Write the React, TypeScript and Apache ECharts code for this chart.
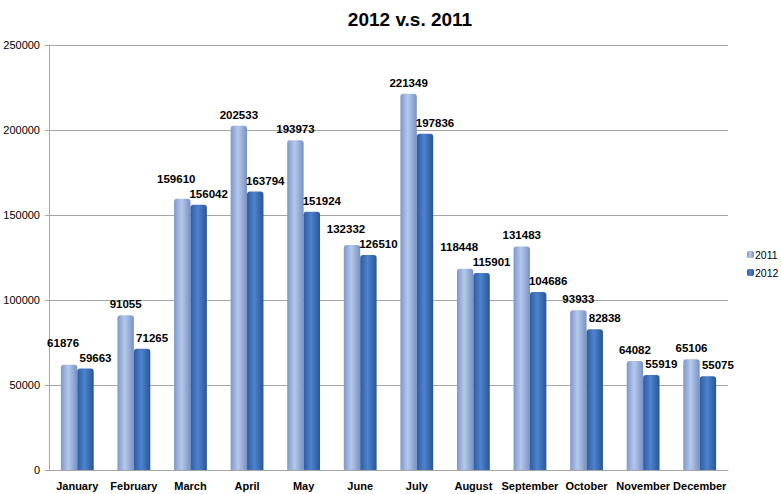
import React, { useEffect, useRef } from "react";
import * as echarts from "echarts";

const months = ["January", "February", "March", "April", "May", "June", "July", "August", "September", "October", "November", "December"];
const values2011 = [61876, 91055, 159610, 202533, 193973, 132332, 221349, 118448, 131483, 93933, 64082, 65106];
const values2012 = [59663, 71265, 156042, 163794, 151924, 126510, 197836, 115901, 104686, 82838, 55919, 55075];
const yMax = 250000;
const yStep = 50000;

const FONT = "'Liberation Sans', Arial, sans-serif";

function grad(left: string, mid: string, right: string) {
  return new echarts.graphic.LinearGradient(0, 0, 1, 0, [
    { offset: 0, color: left },
    { offset: 0.45, color: mid },
    { offset: 1, color: right },
  ]);
}

export default function App() {
  const ref = useRef<HTMLDivElement>(null);
  useEffect(() => {
    if (!ref.current) return;
    const chart = echarts.init(ref.current, null, { renderer: "svg" });
    const plotH = 494 - 45 - 24;
    const pxPer = plotH / yMax;
    const labelBase = {
      show: true,
      position: "top" as const,
      distance: 5,
      color: "#000",
      fontFamily: FONT,
      fontWeight: "bold" as const,
      fontSize: 11.5,
    };
    // lift the 2011 label when it would collide with the neighbouring 2012 label
    const data2011 = values2011.map((v, i) => {
      const d = (v - values2012[i]) * pxPer;
      if (d < 12) {
        return { value: v, label: { offset: [-6, -(15 - d)] } };
      }
      return v;
    });
    const data2012 = values2012.map((v) => v);
    chart.setOption({
      animation: false,
      backgroundColor: "#fff",
      title: {
        text: "2012 v.s. 2011",
        left: 405,
        textAlign: "center",
        top: 5,
        textStyle: { fontFamily: FONT, fontWeight: "bold", fontSize: 19, color: "#000" },
      },
      legend: {
        orient: "vertical",
        left: 747,
        top: 249,
        padding: 0,
        itemWidth: 7,
        itemHeight: 7,
        itemGap: 7,
        textStyle: { fontFamily: FONT, fontSize: 10.5, color: "#000", padding: [0, 0, 0, -4] },
        data: ["2011", "2012"],
      },
      grid: { left: 49, right: 53, top: 45, bottom: 24, containLabel: false },
      xAxis: {
        type: "category",
        data: months,
        axisLine: { lineStyle: { color: "#a6a6a6" } },
        axisTick: { show: false },
        axisLabel: { fontFamily: FONT, fontWeight: "bold", fontSize: 11, color: "#000", margin: 10, interval: 0 },
      },
      yAxis: {
        type: "value",
        min: 0,
        max: yMax,
        interval: yStep,
        axisLine: { show: true, lineStyle: { color: "#a6a6a6" } },
        axisTick: { show: true, length: 4, lineStyle: { color: "#a6a6a6" } },
        splitLine: { lineStyle: { color: "#a6a6a6" } },
        axisLabel: { fontFamily: FONT, fontSize: 11, color: "#000", margin: 9, formatter: (v: number) => String(v) },
      },
      series: [
        {
          name: "2011",
          type: "bar",
          data: data2011,
          barGap: "0%",
          barCategoryGap: "42%",
          itemStyle: { color: grad("#7f98c8", "#b5c9ec", "#7891c2"), borderRadius: [3, 3, 0, 0] },
          label: labelBase,
        },
        {
          name: "2012",
          type: "bar",
          data: data2012,
          barGap: "0%",
          barCategoryGap: "42%",
          itemStyle: { color: grad("#2f5c9f", "#4d83cf", "#2a5592"), borderRadius: [3, 3, 0, 0] },
          label: { ...labelBase, offset: [10, 0] },
        },
      ],
    });
    return () => chart.dispose();
  }, []);
  return <div ref={ref} style={{ width: 781, height: 494, position: "absolute", left: 0, top: 0 }} />;
}
